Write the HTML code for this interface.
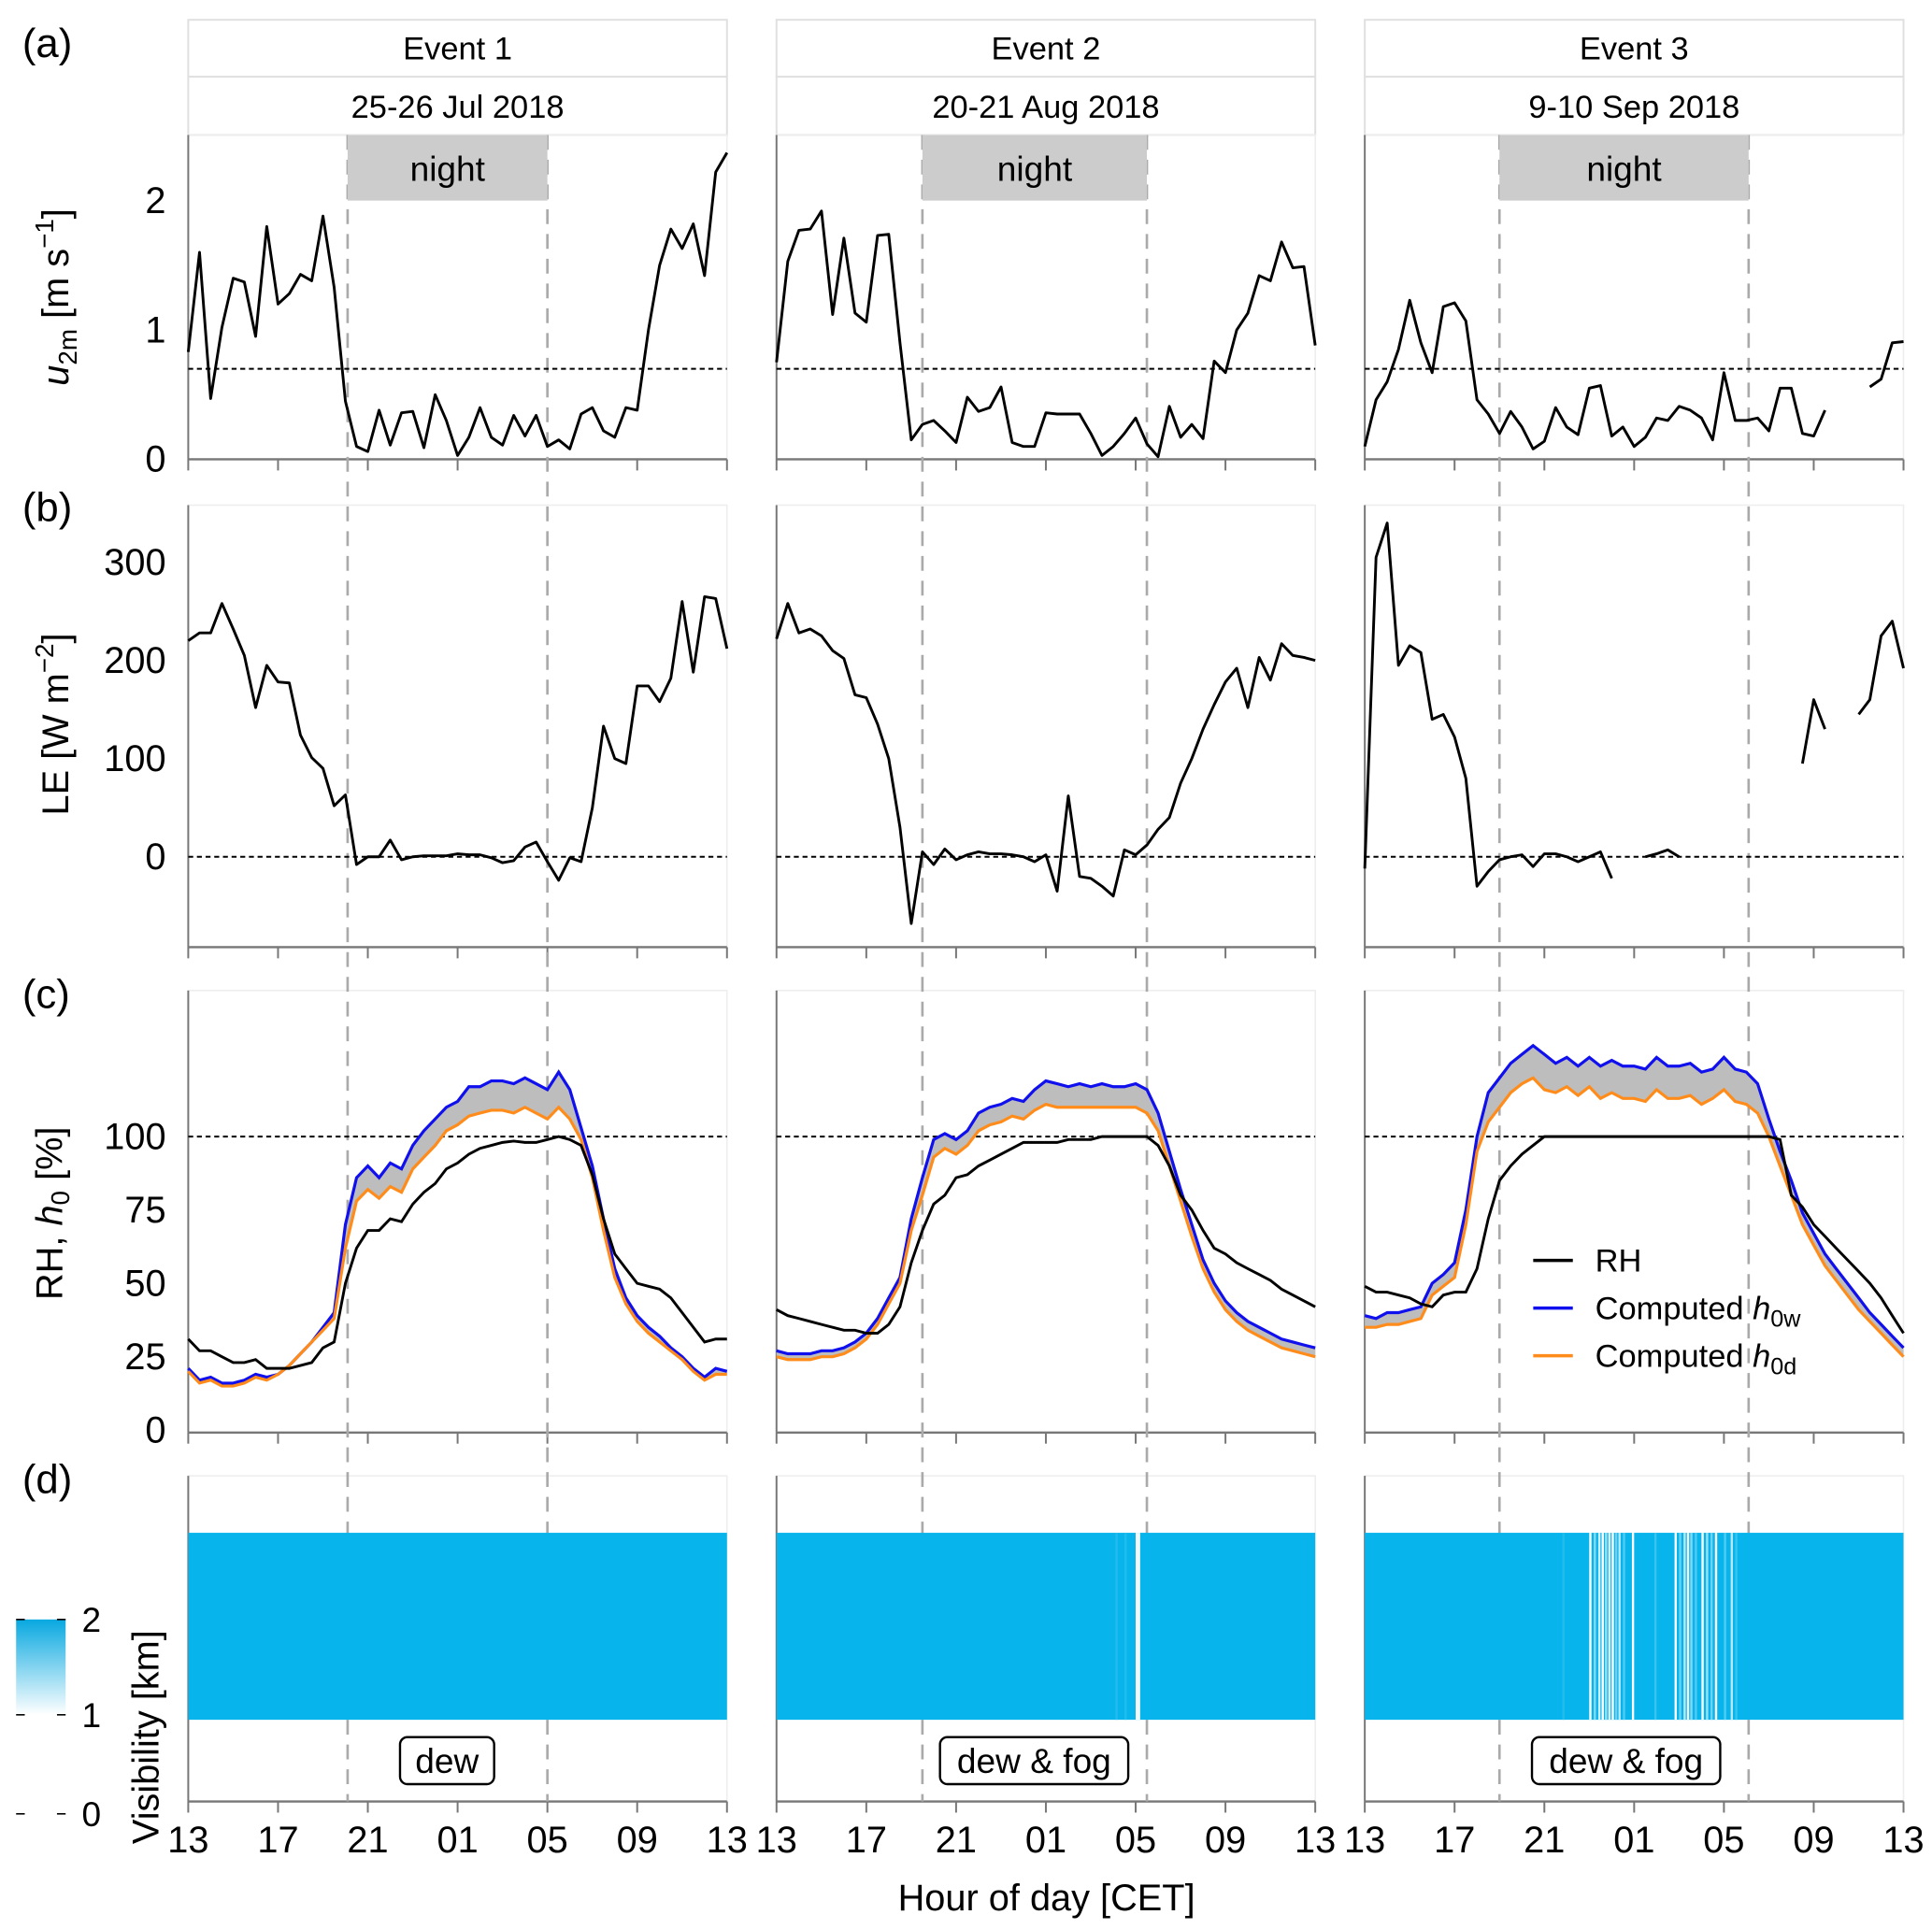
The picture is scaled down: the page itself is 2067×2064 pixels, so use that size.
<!DOCTYPE html>
<html><head><meta charset="utf-8"><style>
html,body{margin:0;padding:0;background:#fff}
svg{display:block}
text{font-family:"Liberation Sans",sans-serif;fill:#000}
</style></head><body>
<svg id="fig" xmlns="http://www.w3.org/2000/svg" width="2067" height="2064" viewBox="0 0 1560 1558" preserveAspectRatio="none">
<g id="root"></g>
</svg>
<script>
// ---- data ----
const eventTitles = ["Event 1","Event 2","Event 3"];
const eventDates = ["25-26 Jul 2018","20-21 Aug 2018","9-10 Sep 2018"];
const xTickLabels = ["13","17","21","01","05","09","13"];
const nightStart = [7.1, 6.5, 6.0];   // hours after 13 CET
const nightEnd = [16.0, 16.5, 17.1];
const u1 = [0.83,1.6,0.47,1.02,1.4,1.37,0.95,1.8,1.2,1.28,1.43,1.38,1.88,1.33,0.45,0.1,0.06,0.38,0.11,0.36,0.37,0.09,0.5,0.3,0.03,0.17,0.4,0.17,0.11,0.34,0.18,0.34,0.1,0.15,0.08,0.35,0.4,0.22,0.17,0.4,0.38,1.0,1.5,1.78,1.63,1.82,1.42,2.22,2.37];
const u2 = [0.75,1.53,1.77,1.78,1.92,1.12,1.71,1.13,1.06,1.73,1.74,0.9,0.15,0.27,0.3,0.22,0.13,0.48,0.37,0.4,0.56,0.13,0.1,0.1,0.36,0.35,0.35,0.35,0.2,0.03,0.1,0.2,0.32,0.12,0.02,0.41,0.17,0.27,0.16,0.76,0.67,1.0,1.13,1.42,1.38,1.68,1.48,1.49,0.88];
const u3 = [0.1,0.46,0.6,0.85,1.23,0.9,0.67,1.18,1.21,1.07,0.46,0.35,0.2,0.37,0.25,0.08,0.14,0.4,0.25,0.19,0.55,0.57,0.18,0.25,0.1,0.17,0.32,0.3,0.41,0.38,0.32,0.15,0.67,0.3,0.3,0.32,0.22,0.55,0.55,0.2,0.18,0.38,null,null,null,0.56,0.62,0.9,0.91];
const le1 = [220,228,228,258,232,205,152,195,178,177,124,101,90,52,63,-8,0,0,17,-3,0,1,1,1,3,2,2,-1,-6,-4,10,15,-5,-24,-1,-5,50,133,100,95,174,174,158,182,260,188,265,263,212];
const le2 = [222,258,228,232,225,210,202,165,162,135,100,30,-68,5,-8,8,-3,2,5,3,3,2,0,-5,2,-35,62,-20,-22,-30,-40,7,2,12,28,40,75,100,130,155,178,192,152,203,180,217,205,203,200];
const le3 = [-12,305,340,195,215,208,140,145,122,80,-30,-15,-3,0,2,-10,3,3,0,-5,0,5,-22,null,null,0,3,7,0,null,null,null,null,null,null,null,null,null,null,95,160,130,null,null,145,160,225,240,192];
const rh1 = [31,27,27,25,23,23,24,21,21,21,22,23,28,30,50,62,68,68,72,71,77,81,84,89,91,94,96,97,98,98.5,98,98,99,100,99,97,87,72,60,55,50,49,48,45,40,35,30,31,31];
const hw1 = [21,17,18,16,16,17,19,18,19,22,26,30,35,40,70,86,90,86,91,89,97,102,106,110,112,117,117,119,119,118,120,118,116,122,116,103,90,72,55,45,39,35,32,28,25,21,18,21,20];
const hd1 = [20,16,17,15,15,16,18,17,19,22,26,30,34,38,62,78,82,79,83,81,89,93,97,102,104,107,108,109,109,108,110,108,106,110,106,99,86,68,52,43,37,33,30,27,24,20,17,19,19];
const rh2 = [41,39,38,37,36,35,34,34,33,33,36,42,57,68,77,80,86,87,90,92,94,96,98,98,98,98,99,99,99,100,100,100,100,100,97,90,80,75,68,62,60,57,55,53,51,48,46,44,42];
const hw2 = [27,26,26,26,27,27,28,30,33,38,45,52,72,86,99,101,99,102,108,110,111,113,112,116,119,118,117,118,117,118,117,117,118,116,108,95,82,70,58,50,44,40,37,35,33,31,30,29,28];
const hd2 = [25,24,24,24,25,25,26,28,31,36,43,50,68,80,93,96,94,97,102,104,105,107,106,109,111,110,110,110,110,110,110,110,110,108,102,90,78,66,55,47,41,37,34,32,30,28,27,26,25];
const rh3 = [49,47,47,46,45,43,42,46,47,47,55,72,85,90,94,97,100,100,100,100,100,100,100,100,100,100,100,100,100,100,100,100,100,100,100,100,100,99,80,76,70,66,62,58,54,50,45,39,33];
const hw3 = [39,38,40,40,41,42,50,53,57,75,100,115,120,125,128,131,128,125,127,124,127,124,126,124,124,123,127,124,124,125,122,123,127,123,122,118,106,95,85,74,67,60,55,50,45,40,36,32,28];
const hd3 = [35,35,36,36,37,38,46,49,52,70,95,105,110,115,118,120,116,115,117,114,117,113,115,113,113,112,116,113,113,114,111,113,116,112,111,108,100,90,80,70,63,56,51,46,41,37,33,29,25];
// visibility drops below 2 km (hour after 13 CET, visibility km)
const visHours2 = [15.1,15.5,16.0,16.1];
const visKm2 = [1.9,1.9,1.0,1.05];
const visHours3 = [8.8,10.0,10.2,10.4,10.55,10.7,10.85,11.0,11.15,11.3,11.5,11.9,12.9,13.8,14.0,14.2,14.35,14.5,14.7,15.0,15.2,15.4,15.6,16.0,16.3,16.5];
const visKm3 = [1.9,1.0,1.5,1.2,1.0,1.4,1.1,1.0,1.6,1.3,1.7,1.0,1.8,1.0,1.6,1.3,1.0,1.5,1.7,1.0,1.4,1.6,1.0,1.7,1.3,1.8];
const boxLabels = ["dew","dew & fog","dew & fog"];

// ---- layout ----
const NS="http://www.w3.org/2000/svg";
const root=document.getElementById('root');
function el(tag,attrs,parent){const e=document.createElementNS(NS,tag);for(const k in attrs)e.setAttribute(k,attrs[k]);(parent||root).appendChild(e);return e;}
const panelX=[[152,587],[627,1062],[1102,1537]];
const xs=(p,h)=>panelX[p][0]+(panelX[p][1]-panelX[p][0])*h/24;
const rows={a:{top:109,bot:371,y0:371,k:104.5},b:{top:408,bot:765,y0:692,k:0.793},c:{top:800,bot:1157,y0:1155,k:2.37},d:{top:1192,bot:1455}};

function pathFor(p,arr,row){
  let d="",pen=false;
  arr.forEach((v,i)=>{ if(v===null){pen=false;return;}
    const x=xs(p,i*0.5), y=row.y0-v*row.k;
    d+=(pen?"L":"M")+x.toFixed(1)+","+y.toFixed(1); pen=true;});
  return d;
}

// strips
for(let p=0;p<3;p++){
  const [x0,x1]=panelX[p];
  const s1=el('rect',{x:x0,y:16,width:x1-x0,height:46,fill:'#fff',stroke:'#e0e0e0','stroke-width':1.5});
   
  const s2=el('rect',{x:x0,y:62,width:x1-x0,height:47,fill:'#fff',stroke:'#e0e0e0','stroke-width':1.5});
   
  const t1=el('text',{x:(x0+x1)/2,y:48,'text-anchor':'middle','font-size':26}); t1.textContent=eventTitles[p];
   
  const t2=el('text',{x:(x0+x1)/2,y:95,'text-anchor':'middle','font-size':26}); t2.textContent=eventDates[p];
   
}

// panel frames, axes
const rowKeys=['a','b','c','d'];
rowKeys.forEach(rk=>{
  const r=rows[rk];
  for(let p=0;p<3;p++){
    const [x0,x1]=panelX[p];
    const fr=el('rect',{x:x0,y:r.top,width:x1-x0,height:r.bot-r.top,fill:'none',stroke:'#eeeeee','stroke-width':1.2});
     
    el('line',{x1:x0,y1:r.top,x2:x0,y2:r.bot,stroke:'#777','stroke-width':1.5});
    const ax=el('line',{x1:x0,y1:r.bot,x2:x1,y2:r.bot,stroke:'#777','stroke-width':1.8});
     
    for(let i=0;i<7;i++){ el('line',{x1:xs(p,i*4),y1:r.bot,x2:xs(p,i*4),y2:r.bot+9,stroke:'#777','stroke-width':1.5}); }
  }
});

// night dashed lines & box
for(let p=0;p<3;p++){
  [nightStart[p],nightEnd[p]].forEach((h,j)=>{
    const l=el('line',{x1:xs(p,h),y1:rows.a.top,x2:xs(p,h),y2:rows.d.bot,stroke:'#aaa','stroke-width':2,'stroke-dasharray':'12,8'});
     
  });
  const nb=el('rect',{x:xs(p,nightStart[p]),y:109,width:xs(p,nightEnd[p])-xs(p,nightStart[p]),height:53,fill:'#cccccc'});
   
  const nt=el('text',{x:(xs(p,nightStart[p])+xs(p,nightEnd[p]))/2,y:146,'text-anchor':'middle','font-size':28}); nt.textContent='night';
   
}

// reference lines
for(let p=0;p<3;p++){
  [[rows.a,0.7],[rows.b,0],[rows.c,100]].forEach(([r,v])=>{
    const l=el('line',{x1:panelX[p][0],x2:panelX[p][1],y1:r.y0-v*r.k,y2:r.y0-v*r.k,stroke:'#000','stroke-width':1.5,'stroke-dasharray':'4,3'});
     
  });
}

// panel a,b lines
[u1,u2,u3].forEach((a,p)=>{const l=el('path',{d:pathFor(p,a,rows.a),fill:'none',stroke:'#000','stroke-width':2.2,'stroke-linejoin':'round'});
   });
[le1,le2,le3].forEach((a,p)=>{const l=el('path',{d:pathFor(p,a,rows.b),fill:'none',stroke:'#000','stroke-width':2.2,'stroke-linejoin':'round'});
   });

// panel c
const RH=[rh1,rh2,rh3],HW=[hw1,hw2,hw3],HD=[hd1,hd2,hd3];
for(let p=0;p<3;p++){
  const r=rows.c; let d="";
  HW[p].forEach((v,i)=>{d+=(i?"L":"M")+xs(p,i*0.5).toFixed(1)+","+(r.y0-v*r.k).toFixed(1);});
  for(let i=HD[p].length-1;i>=0;i--){d+="L"+xs(p,i*0.5).toFixed(1)+","+(r.y0-HD[p][i]*r.k).toFixed(1);}
  const f=el('path',{d:d+"Z",fill:'#bdbdbd',stroke:'none'});
   
  const lw=el('path',{d:pathFor(p,HW[p],r),fill:'none',stroke:'#1010ee','stroke-width':2.4});
   
  const ld=el('path',{d:pathFor(p,HD[p],r),fill:'none',stroke:'#ff8c1a','stroke-width':2.4});
   
  const lr=el('path',{d:pathFor(p,RH[p],r),fill:'none',stroke:'#000','stroke-width':2.2});
   
}
// legend
const legItems=[['#000','RH',''],['#1010ee','Computed ','0w'],['#ff8c1a','Computed ','0d']];
legItems.forEach((it,i)=>{
  const y=1018+i*38.5;
  const ln=el('line',{x1:1238,x2:1270,y1:y,y2:y,stroke:it[0],'stroke-width':2.6});
   
  const t=el('text',{x:1288,y:y+9,'font-size':26});
   
  if(i===0){t.textContent='RH';}else{
    t.appendChild(document.createTextNode(it[1]));
    const h=el('tspan',{'font-style':'italic'},t); h.textContent='h';
    const s=el('tspan',{'font-size':19,dy:6},t); s.textContent=it[2];
  }
});

// panel d
const VH=[[],visHours2,visHours3],VK=[[],visKm2,visKm3];
for(let p=0;p<3;p++){
  const b=el('rect',{x:panelX[p][0],y:1238,width:panelX[p][1]-panelX[p][0],height:151,fill:'#08b4ec'});
   
  VH[p].forEach((h,i)=>{
    const t=Math.max(0,Math.min(1,VK[p][i]-1));
    const c=`rgb(${Math.round(255-(255-8)*t)},${Math.round(255-(255-180)*t)},${Math.round(255-(255-236)*t)})`;
    const s=el('rect',{x:xs(p,h),y:1238,width:1.8,height:151,fill:c});
     
  });
  const cx=[361,835,1313][p], w=[76,152,152][p];
  const bx=el('rect',{x:cx-w/2,y:1403,width:w,height:38,rx:6,fill:'#fff',stroke:'#000','stroke-width':1.8});
   
  const bt=el('text',{x:cx,y:1432,'text-anchor':'middle','font-size':28}); bt.textContent=boxLabels[p];
   
  xTickLabels.forEach((lab,i)=>{
    const t=el('text',{x:xs(p,i*4),y:1496,'text-anchor':'middle','font-size':30}); t.textContent=lab;
     
  });
}
// colorbar
const defs=el('defs',{});
const g=el('linearGradient',{id:'cb',x1:0,y1:1,x2:0,y2:0},defs);
el('stop',{offset:0,'stop-color':'#ffffff'},g); el('stop',{offset:1,'stop-color':'#08a8e0'},g);
const cb=el('rect',{x:13,y:1308,width:40,height:77,fill:'url(#cb)'});
 
[[1308,'2'],[1385,'1'],[1465,'0']].forEach(([y,l])=>{
  el('line',{x1:13,x2:20,y1:y,y2:y,stroke:'#000','stroke-width':1.2});
  el('line',{x1:46,x2:53,y1:y,y2:y,stroke:'#000','stroke-width':1.2});
  const t=el('text',{x:66,y:y+10,'font-size':28}); t.textContent=l;
   
});

// y tick labels
const yTicks={a:[[0,'0'],[1,'1'],[2,'2']],b:[[0,'0'],[100,'100'],[200,'200'],[300,'300']],c:[[0,'0'],[25,'25'],[50,'50'],[75,'75'],[100,'100']]};
for(const rk in yTicks){const r=rows[rk];
  yTicks[rk].forEach(([v,l])=>{const t=el('text',{x:134,y:r.y0-v*r.k+10,'text-anchor':'end','font-size':30}); t.textContent=l;
     });
}
// panel letters
[['(a)',58],['(b)',433],['(c)',826],['(d)',1218]].forEach(([l,y])=>{
  const t=el('text',{x:18,y:y-12,'font-size':33}); t.textContent=l;
   
});
// y axis titles
function ytitle(x,y,name,build){const t=el('text',{x:0,y:0,'text-anchor':'middle','font-size':30,transform:`translate(${x},${y}) rotate(-90)`});
    build(t);}
ytitle(55,240,'y-axis-title-wind',t=>{const a=el('tspan',{'font-style':'italic'},t);a.textContent='u';const b=el('tspan',{'font-size':21,dy:7},t);b.textContent='2m';const c=el('tspan',{dy:-7},t);c.textContent=' [m s';const d=el('tspan',{'font-size':21,dy:-12},t);d.textContent='−1';const e=el('tspan',{dy:12},t);e.textContent=']';});
ytitle(55,585,'y-axis-title-le',t=>{t.appendChild(document.createTextNode('LE [W m'));const d=el('tspan',{'font-size':21,dy:-12},t);d.textContent='−2';const e=el('tspan',{dy:12},t);e.textContent=']';});
ytitle(50,980,'y-axis-title-rh',t=>{t.appendChild(document.createTextNode('RH, '));const a=el('tspan',{'font-style':'italic'},t);a.textContent='h';const b=el('tspan',{'font-size':21,dy:6},t);b.textContent='0';const c=el('tspan',{dy:-6},t);c.textContent=' [%]';});
ytitle(128,1403,'y-axis-title-visibility',t=>{t.textContent='Visibility [km]';});
const xt=el('text',{x:845,y:1543,'text-anchor':'middle','font-size':30}); xt.textContent='Hour of day [CET]';
 
</script>
</body></html>
